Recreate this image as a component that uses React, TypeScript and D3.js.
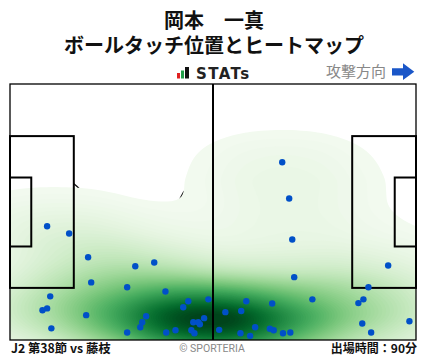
import * as d3 from "d3";
import { useMemo } from "react";

const WIDTH = 428;
const HEIGHT = 359;

// pitch in metres (105 x 68), attack goes left -> right
const PITCH_LEN = 105;
const PITCH_WID = 68;

const playerName = "岡本　一真";
const chartTitle = "ボールタッチ位置とヒートマップ";
const matchLabel = "J2 第38節 vs 藤枝";
const minutesLabel = "出場時間：90分";
const directionLabel = "攻撃方向";

// ball touch positions (metres)
const touchX = [
  70.4, 72.2, 73.0, 73.5, 97.8, 92.7, 91.4, 90.1, 78.2, 67.8, 61.1, 59.8, 55.7,
  54.1, 59.6, 62.1, 63.4, 67.2, 68.2, 70.6, 72.5, 91.1, 93.4, 103.3, 9.6, 15.3,
  20.2, 21.0, 10.4, 9.6, 8.4, 10.7, 19.7, 32.4, 37.3, 30.3, 40.2, 30.3, 33.7,
  34.2, 35.2, 40.4, 42.8, 44.8, 46.1, 51.3, 47.4, 48.7, 49.1, 50.2, 46.9, 47.7,
];
const touchY = [
  20.8, 30.4, 41.3, 51.3, 48.2, 54.0, 57.2, 58.2, 57.2, 58.3, 57.7, 60.3, 60.6,
  65.3, 66.2, 66.9, 64.6, 65.0, 65.4, 66.2, 66.0, 63.6, 66.0, 63.0, 37.8, 39.7,
  46.0, 52.7, 56.4, 59.6, 60.1, 64.9, 61.4, 48.4, 47.4, 54.0, 55.1, 66.0, 64.6,
  63.3, 61.7, 66.0, 65.4, 59.3, 57.7, 57.2, 63.3, 63.3, 63.8, 62.2, 65.4, 66.2,
];

const PITCH = { x0: 10, x1: 416, y0: 84, y1: 340 };
const AX = 2.5; // kernel is wider along the pitch than across it
const LEVELS = 80;

function App() {
  const xScale = d3.scaleLinear().domain([0, PITCH_LEN]).range([PITCH.x0, PITCH.x1]);
  const yScale = d3.scaleLinear().domain([0, PITCH_WID]).range([PITCH.y0, PITCH.y1]);
  const pw = PITCH.x1 - PITCH.x0;
  const ph = PITCH.y1 - PITCH.y0;

  const touches = touchX.map((x, i) => [x, touchY[i]] as [number, number]);

  const contours = useMemo(() => {
    const density = d3
      .contourDensity<[number, number]>()
      .x((d) => (xScale(d[0]) - PITCH.x0) / AX)
      .y((d) => yScale(d[1]) - PITCH.y0)
      .size([pw / AX, ph])
      .bandwidth(22)
      .cellSize(2);
    const probe = density.thresholds(150)(touches);
    const maxV = d3.max(probe, (c) => c.value) ?? 1;
    const lo = 0.02;
    const th = d3.range(LEVELS).map((i) => maxV * (lo + ((1 - lo) * i) / LEVELS));
    return density.thresholds(th)(touches);
  }, []);

  const color = d3
    .scaleSequential(d3.interpolateGreens)
    .domain([-3, LEVELS - 1]);
  const path = d3.geoPath();

  const sx = (m: number) => xScale(m);
  const sy = (m: number) => yScale(m);
  const midY = PITCH_WID / 2;
  const r = xScale(9.15) - xScale(0);

  // penalty arcs (only the part outside the box)
  const arc = d3.arc();
  const dAng = Math.acos(5.5 / 9.15);

  return (
    <svg
      width={WIDTH}
      height={HEIGHT}
      style={{ position: "absolute", left: 0, top: 0, fontFamily: "'Noto Sans CJK JP', 'Noto Sans', sans-serif" }}
    >
      <rect width={WIDTH} height={HEIGHT} fill="#fff" />
      <text x={WIDTH / 2} y={28} textAnchor="middle" fontSize={20} fontWeight="bold" fill="#111">
        {playerName}
      </text>
      <text x={WIDTH / 2} y={53} textAnchor="middle" fontSize={20} fontWeight="bold" fill="#111">
        {chartTitle}
      </text>

      {/* STATs logo */}
      <rect x={177} y={73} width={3} height={5.5} fill="#e02020" />
      <rect x={181} y={70.5} width={3} height={8} fill="#22a04a" />
      <rect x={185} y={67} width={4} height={11.5} fill="#111" />
      <text x={196} y={78.5} fontSize={15} fontWeight="bold" letterSpacing={1.4} fill="#222"
        style={{ fontFamily: "'DejaVu Sans', sans-serif" }}>
        STATs
      </text>

      <text x={326} y={77} fontSize={15} fill="#888">
        {directionLabel}
      </text>
      <path d="M392,68.3 H403 V63.3 L414.3,71.7 L403,80 V75.5 H392 Z" fill="#1a56c8" />

      <clipPath id="pitchClip">
        <rect x={PITCH.x0} y={PITCH.y0} width={pw} height={ph} />
      </clipPath>

      {/* lines that the heatmap covers */}
      <g fill="none" stroke="#111" strokeWidth={1.5}>
        <circle cx={sx(PITCH_LEN / 2)} cy={sy(midY)} r={r} />
        <path
          d={arc({ innerRadius: r, outerRadius: r, startAngle: Math.PI / 2 - dAng, endAngle: Math.PI / 2 + dAng }) ?? ""}
          transform={`translate(${sx(11)},${sy(midY)})`}
        />
        <path
          d={arc({ innerRadius: r, outerRadius: r, startAngle: -Math.PI / 2 - dAng, endAngle: -Math.PI / 2 + dAng }) ?? ""}
          transform={`translate(${sx(PITCH_LEN - 11)},${sy(midY)})`}
        />
      </g>

      <g clipPath="url(#pitchClip)">
        <g transform={`translate(${PITCH.x0},${PITCH.y0}) scale(${AX},1)`}>
          {contours.map((c, i) => (
            <path key={i} d={path(c) ?? ""} fill={color(i)} stroke="none" />
          ))}
        </g>
      </g>

      <g fill="none" stroke="#000">
        <rect x={PITCH.x0} y={PITCH.y0} width={pw} height={ph} strokeWidth={1.3} />
        <line x1={sx(PITCH_LEN / 2)} x2={sx(PITCH_LEN / 2)} y1={PITCH.y0} y2={PITCH.y1} strokeWidth={2} />
        <rect x={sx(0)} y={sy(midY - 20.16)} width={sx(16.5) - sx(0)} height={sy(midY + 20.16) - sy(midY - 20.16)} strokeWidth={2} />
        <rect x={sx(0)} y={sy(midY - 9.16)} width={sx(5.5) - sx(0)} height={sy(midY + 9.16) - sy(midY - 9.16)} strokeWidth={2} />
        <rect x={sx(PITCH_LEN - 16.5)} y={sy(midY - 20.16)} width={sx(16.5) - sx(0)} height={sy(midY + 20.16) - sy(midY - 20.16)} strokeWidth={2} />
        <rect x={sx(PITCH_LEN - 5.5)} y={sy(midY - 9.16)} width={sx(5.5) - sx(0)} height={sy(midY + 9.16) - sy(midY - 9.16)} strokeWidth={2} />
      </g>

      {touches.map((d, i) => (
        <circle key={i} cx={xScale(d[0])} cy={yScale(d[1])} r={3.2} fill="#0050c8" />
      ))}

      <text x={11} y={353} fontSize={12.3} fontWeight="bold" fill="#111">
        {matchLabel}
      </text>
      <text x={212} y={352} textAnchor="middle" fontSize={10.5} fill="#888"
        style={{ fontFamily: "'Roboto', sans-serif" }}>
        © SPORTERIA
      </text>
      <text x={417} y={353} textAnchor="end" fontSize={12} fontWeight="bold" fill="#111">
        {minutesLabel}
      </text>
    </svg>
  );
}

export default App;
